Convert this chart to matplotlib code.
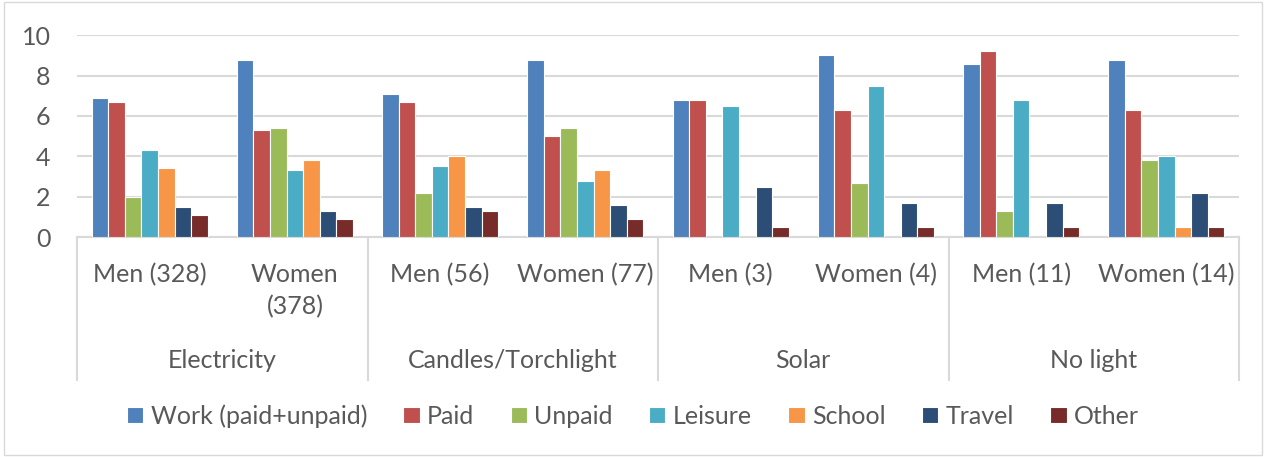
import numpy as np
import matplotlib
matplotlib.use("Agg")
import matplotlib.pyplot as plt
import matplotlib.transforms as mtransforms
from matplotlib.lines import Line2D
from matplotlib.patches import Rectangle

groups = ["Electricity", "Candles/Torchlight", "Solar", "No light"]
subgroups = ["Men (328)", "Women\n(378)", "Men (56)", "Women (77)",
             "Men (3)", "Women (4)", "Men (11)", "Women (14)"]
series = ["Work (paid+unpaid)", "Paid", "Unpaid", "Leisure", "School", "Travel", "Other"]

work    = [6.9, 8.8, 7.1, 8.8, 6.8, 9.0, 8.6, 8.8]
paid    = [6.7, 5.3, 6.7, 5.0, 6.8, 6.3, 9.2, 6.3]
unpaid  = [2.0, 5.4, 2.2, 5.4, 0.0, 2.7, 1.3, 3.8]
leisure = [4.3, 3.3, 3.5, 2.8, 6.5, 7.5, 6.8, 4.0]
school  = [3.4, 3.8, 4.0, 3.3, 0.0, 0.0, 0.0, 0.5]
travel  = [1.5, 1.3, 1.5, 1.6, 2.5, 1.7, 1.7, 2.2]
other   = [1.1, 0.9, 1.3, 0.9, 0.5, 0.5, 0.5, 0.5]
values = [work, paid, unpaid, leisure, school, travel, other]

colors = ["#4F81BD", "#C0504D", "#9BBB59", "#4BACC6", "#F79646", "#2C4D75", "#772C2A"]
text_color = "#595959"
plt.rcParams["font.family"] = ["Lato", "DejaVu Sans"]

W, H = 1266, 457
fs = 18
fig = plt.figure(figsize=(W / 100, H / 100), dpi=100)
ax = fig.add_axes([77 / W, 1 - 237 / H, (1239 - 77) / W, (237 - 35.3) / H])

x = np.arange(len(subgroups))
bw = 0.8 / len(series)
for i, (name, vals) in enumerate(zip(series, values)):
    ax.bar(x - 0.4 + bw * (i + 0.5), vals, width=bw, color=colors[i],
           edgecolor="white", linewidth=0.8, label=name, zorder=3)

ax.set_xlim(-0.5, len(subgroups) - 0.5)
ax.set_ylim(0, 10)
ax.set_yticks(range(0, 11, 2))
ax.yaxis.grid(True, color="#d9d9d9", linewidth=1.5, zorder=0)
ax.set_xticks([])
ax.tick_params(axis="y", length=0, pad=19, labelsize=fs, labelcolor=text_color)
for s in ["top", "right", "left"]:
    ax.spines[s].set_visible(False)
ax.spines["bottom"].set_color("#d9d9d9")
ax.spines["bottom"].set_linewidth(1.5)

# multi-level category axis
trans = mtransforms.blended_transform_factory(ax.transData, fig.transFigure)
for xi, lab in zip(x, subgroups):
    ax.text(xi, 1 - 263 / H, lab, transform=trans, ha="center", va="top",
            fontsize=fs, color=text_color, linespacing=1.45)
for gi, g in enumerate(groups):
    ax.text(2 * gi + 0.5, 1 - 360 / H, g, transform=trans, ha="center",
            va="center", fontsize=fs, color=text_color)
for b in np.arange(-0.5, len(subgroups), 2):
    ax.add_line(Line2D([b, b], [1 - 237 / H, 1 - 380 / H], transform=trans,
                       color="#d9d9d9", linewidth=1.5, clip_on=False))

# chart border
fig.patches.append(Rectangle((4 / W, 2 / H), 1 - 8 / W, 1 - 4 / H,
                             transform=fig.transFigure, fill=False,
                             edgecolor="#d9d9d9", linewidth=1))

fig.legend(loc="center", bbox_to_anchor=(0.5, 1 - 416 / H), ncol=7,
           frameon=False, fontsize=fs, labelcolor=text_color,
           handlelength=0.65, handleheight=0.65, handletextpad=0.3,
           columnspacing=1.45)

fig.savefig("out.png", dpi=100)
